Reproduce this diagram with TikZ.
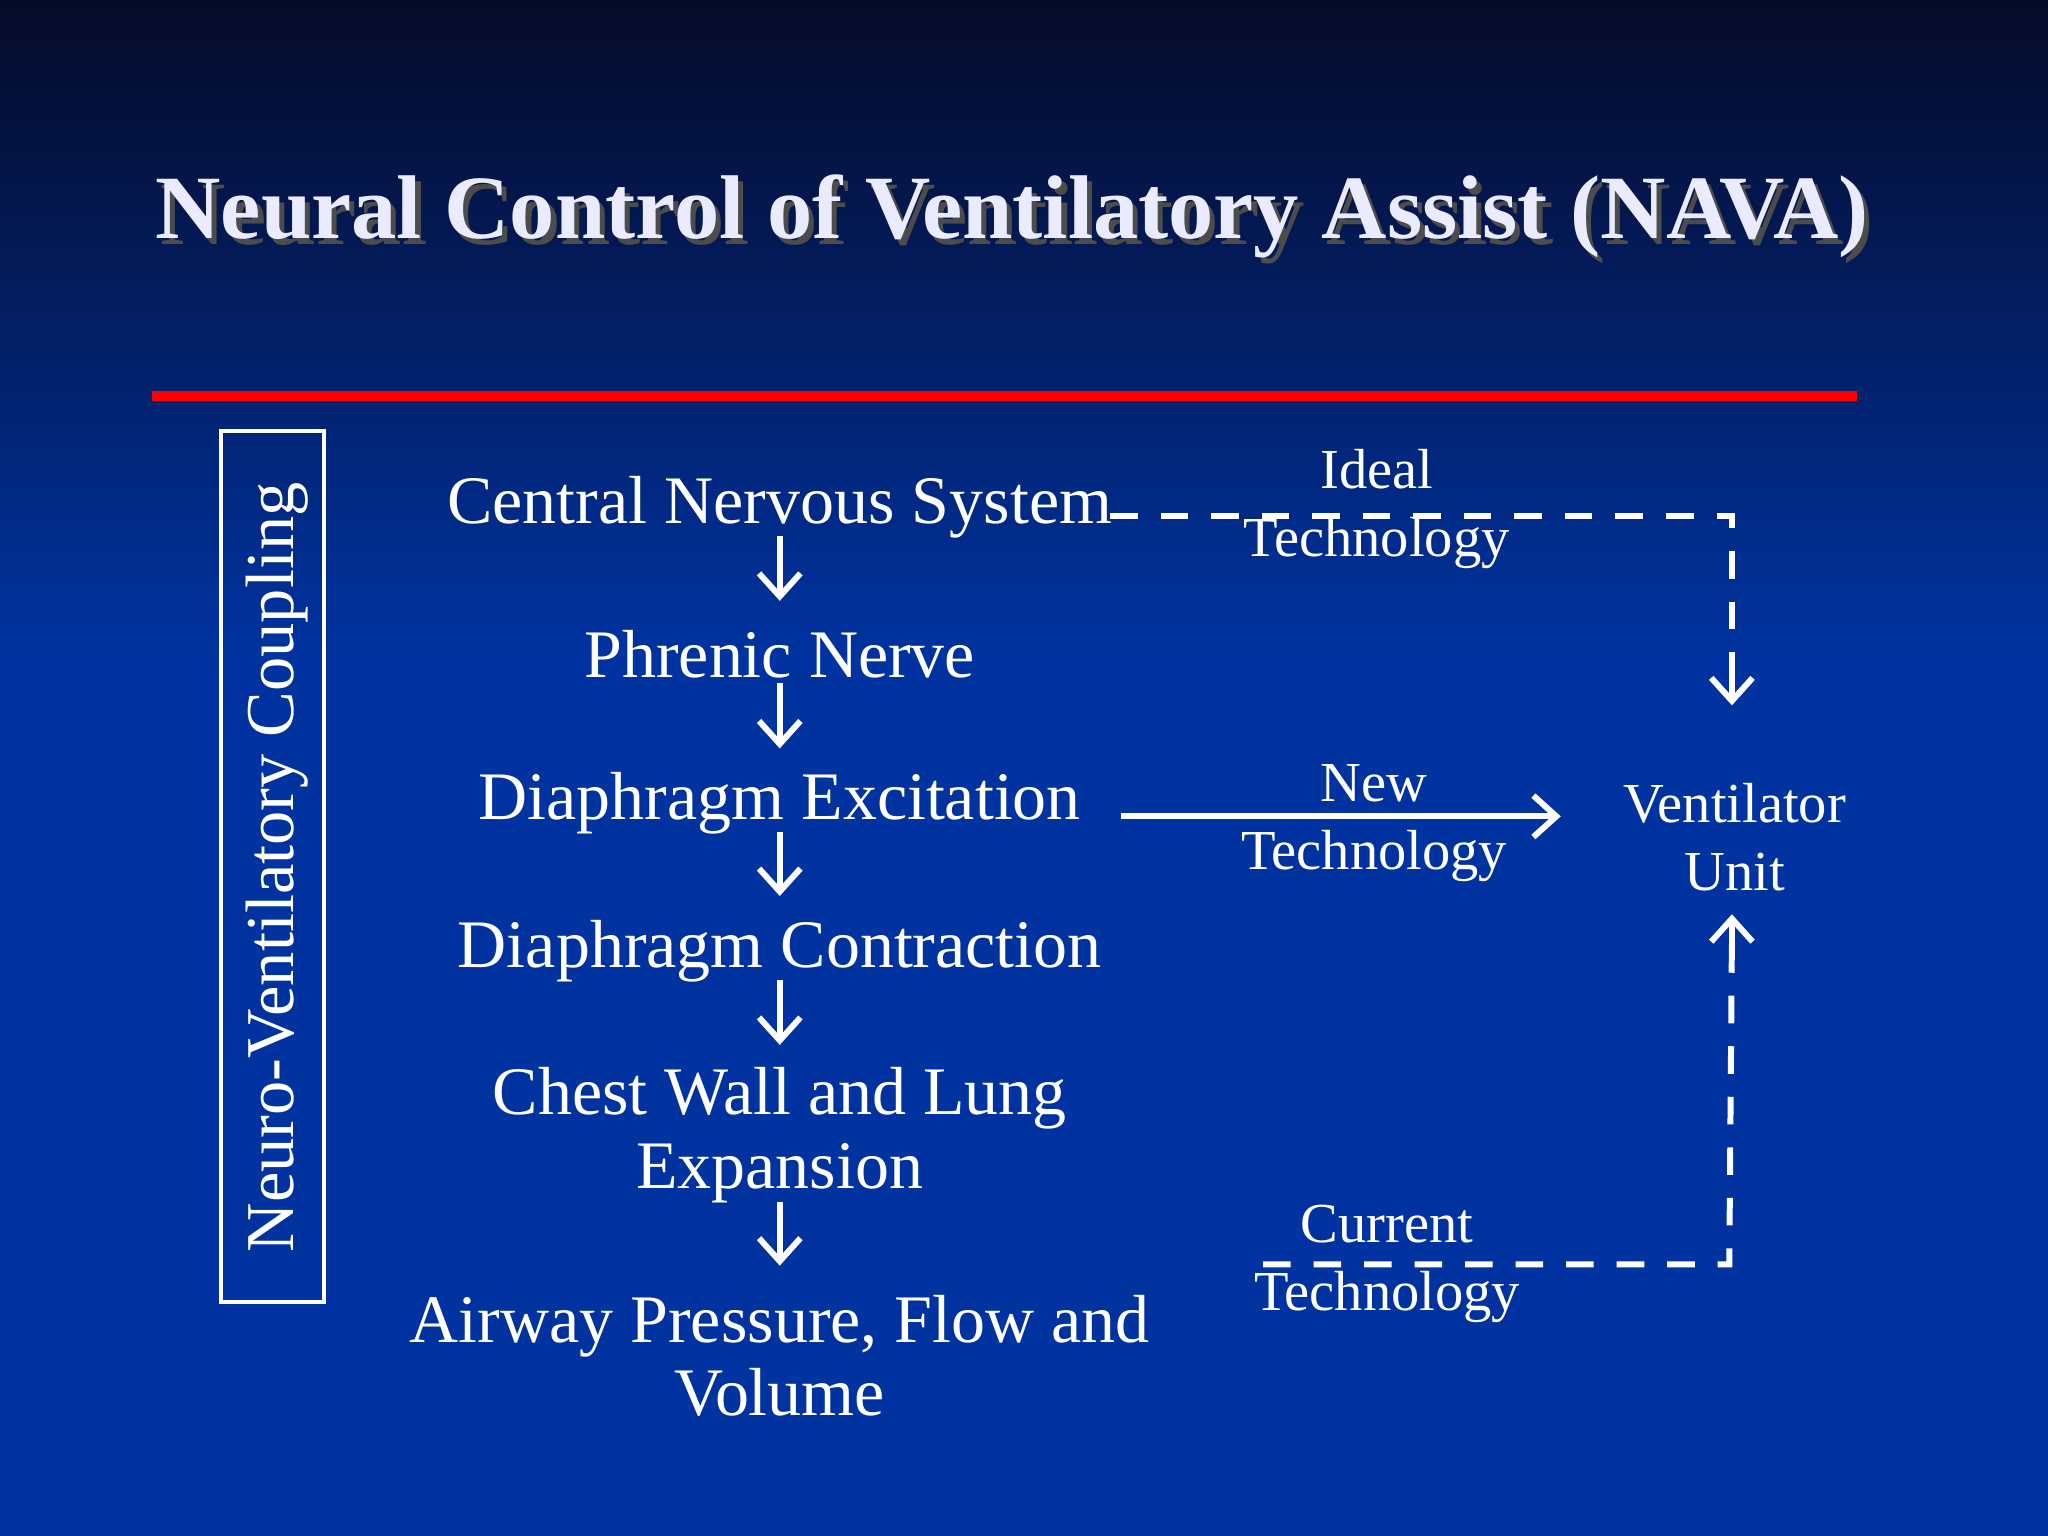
\documentclass[tikz,border=0pt]{standalone}
\usepackage{fontspec}
\setmainfont{Liberation Serif}
\usetikzlibrary{arrows.meta}
\definecolor{bgtop}{RGB}{5,10,40}
\definecolor{bgbot}{RGB}{0,51,160}
\definecolor{titlec}{RGB}{235,235,255}
\begin{document}
\begin{tikzpicture}[x=0.01cm,y=-0.01cm,
  txt/.style={text=white,font=\fontsize{14.8pt}{16pt}\selectfont,align=center,inner sep=1pt},
  lbl/.style={text=white,font=\fontsize{12.3pt}{14.8pt}\selectfont,align=center,inner sep=1pt},
  darr/.style={draw=white,line width=1.3pt,-{Straight Barb[length=5pt,width=9pt]}},
  dsh/.style={draw=white,line width=1.3pt,dash pattern=on 6pt off 5pt}]
\useasboundingbox (0,0) rectangle (1568,1176);
\shade[top color=bgtop, bottom color=bgbot] (0,0) rectangle (1568,500);
\fill[bgbot] (0,499) rectangle (1568,1176);
\node[text=black!70,font=\bfseries\fontsize{19.7pt}{22pt}\selectfont] at (779,170) {Neural Control of Ventilatory Assist (NAVA)};
\node[text=titlec,font=\bfseries\fontsize{19.7pt}{22pt}\selectfont] (title) at (775,166) {Neural Control of Ventilatory Assist (NAVA)};
\fill[red] (116,299) rectangle (1422,307);
\draw[white,line width=0.8pt] (169,330) rectangle (248,997);
\node[txt,rotate=90,font=\fontsize{14.9pt}{16pt}\selectfont] (nvc) at (212,664) {Neuro-Ventilatory Coupling};
\node[txt] (cns) at (597,388) {Central Nervous System};
\node[txt] (pn) at (597,501) {Phrenic Nerve};
\node[txt] (de) at (597,615) {Diaphragm Excitation};
\node[txt] (dc) at (597,728) {Diaphragm Contraction};
\node[txt] (cw) at (597,869) {Chest Wall and Lung\\Expansion};
\node[txt] (ap) at (597,1038) {Airway Pressure, Flow and\\Volume};
\draw[darr] (597,410) -- (597,460);
\draw[darr] (597,523) -- (597,573);
\draw[darr] (597,637) -- (597,686);
\draw[darr] (597,750) -- (597,800);
\draw[darr] (597,920) -- (597,969);
\node[lbl] (vu) at (1328,641) {Ventilator\\Unit};
\coordinate (c1) at (1326,395);
\draw[dsh] (850,395) -- (c1) -- (1326,525);
\draw[darr] (1326,515) -- (1326,540);
\node[lbl] at (1054,390) {Ideal\\Technology};
\draw[darr] (858,625) -- (1195,625);
\node[lbl] at (1052,630) {New\\Technology};
\coordinate (c2) at (1324,968);
\draw[dsh] (967,968) -- (c2) -- (1326,720);
\draw[darr] (1326,725) -- (1326,700);
\node[lbl] at (1062,968) {Current\\Technology};
\end{tikzpicture}
\end{document}
